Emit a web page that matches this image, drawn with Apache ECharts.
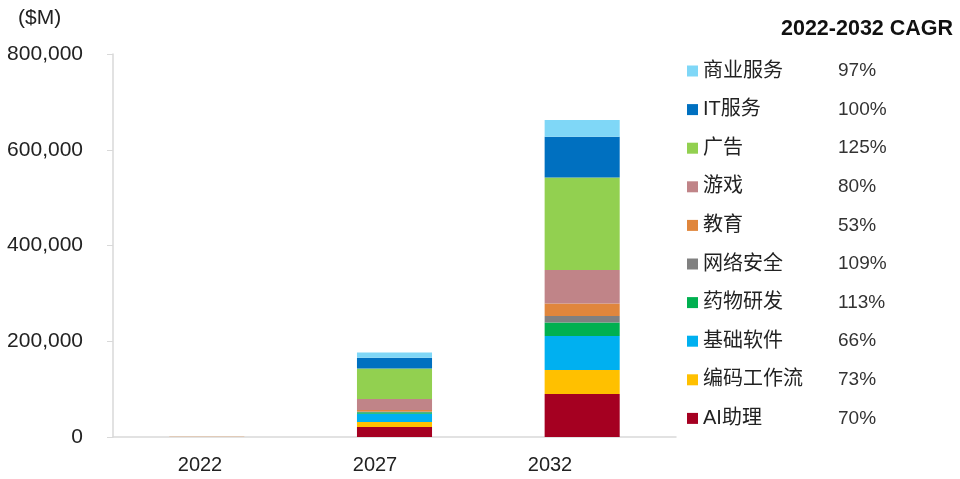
<!DOCTYPE html>
<html>
<head>
<meta charset="utf-8">
<script src="https://cdn.jsdelivr.net/npm/echarts@6/dist/echarts.min.js"></script>
<style>html,body{margin:0;padding:0;background:#fff}#c{width:960px;height:479px}</style>
</head>
<body>
<div id="c"></div>
<script>
const categories = ['2022', '2027', '2032'];
const seriesNames = ['AI助理', '编码工作流', '基础软件', '药物研发', '网络安全', '教育', '游戏', '广告', 'IT服务', '商业服务'];
const aiAssistant = [100, 20900, 90000];
const codingWorkflow = [60, 10400, 50000];
const basicSoftware = [90, 17500, 71000];
const drugDiscovery = [5, 3000, 28000];
const cyberSecurity = [3, 1500, 14000];
const education = [90, 3000, 26000];
const gaming = [40, 23000, 70000];
const advertising = [20, 64000, 193000];
const itServices = [20, 22000, 85000];
const businessServices = [10, 11000, 35000];
const cagr = ['70%', '73%', '66%', '113%', '109%', '53%', '80%', '125%', '100%', '97%'];
const yTicks = [0, 200000, 400000, 600000, 800000];
const colors = ['#a50021', '#ffc000', '#00b0f0', '#00b050', '#808080', '#e0863c', '#c08488', '#92d050', '#0070c0', '#7fd7f7'];

const values = [aiAssistant, codingWorkflow, basicSoftware, drugDiscovery, cyberSecurity, education, gaming, advertising, itServices, businessServices];
const latin = 'Liberation Sans, Arial, sans-serif';
const cjk = 'Liberation Sans, Noto Sans CJK SC, sans-serif';

const chart = echarts.init(document.getElementById('c'));
chart.setOption({
  animation: false,
  title: [
    { text: '($M)', left: 13, top: 3, textStyle: { fontFamily: latin, fontSize: 21, fontWeight: 'normal', color: '#222' } },
    { text: '2022-2032 CAGR', left: 776, top: 13, textStyle: { fontFamily: latin, fontSize: 21.5, fontWeight: 'bold', color: '#111' } }
  ],
  grid: [
    { left: 113, right: 284, top: 54, bottom: 42 },
    { left: 112.5, right: 322.5, top: 54, bottom: 42 }
  ],
  legend: {
    orient: 'vertical',
    left: 682,
    top: 56,
    itemWidth: 11,
    itemHeight: 11,
    itemGap: 18.6,
    icon: 'rect',
    data: seriesNames.slice().reverse(),
    formatter: function (name) {
      const i = seriesNames.indexOf(name);
      return '{n|' + name + '}{v|' + cagr[i] + '}';
    },
    textStyle: {
      rich: {
        n: { width: 135, fontSize: 20, lineHeight: 22, fontFamily: cjk, color: '#222' },
        v: { fontSize: 19, lineHeight: 22, fontFamily: latin, color: '#333' }
      }
    }
  },
  xAxis: [
    {
      type: 'category', gridIndex: 0, data: categories,
      axisLine: { show: true, lineStyle: { color: '#d9d9d9', width: 1.5 } },
      axisTick: { show: false },
      axisLabel: { show: false }
    },
    {
      type: 'category', gridIndex: 1, data: categories,
      axisLine: { show: false }, axisTick: { show: false },
      axisLabel: { show: true, margin: 18, fontSize: 20, fontFamily: latin, color: '#222' }
    }
  ],
  yAxis: [
    {
      type: 'value', gridIndex: 0, min: 0, max: 800000, interval: 200000,
      axisLine: { show: true, lineStyle: { color: '#d9d9d9', width: 1.5 } },
      axisTick: { show: true, length: 6, lineStyle: { color: '#d9d9d9' } },
      splitLine: { show: false },
      axisLabel: {
        margin: 30, fontSize: 21, fontFamily: latin, color: '#222',
        formatter: function (v) { return yTicks.indexOf(v) >= 0 ? v.toLocaleString('en-US') : ''; }
      }
    },
    { type: 'value', gridIndex: 1, min: 0, max: 800000, show: false }
  ],
  series: seriesNames.map(function (name, i) {
    return {
      name: name, type: 'bar', stack: 'total', xAxisIndex: 0, yAxisIndex: 0,
      barWidth: '40%', data: values[i], itemStyle: { color: colors[i] }
    };
  })
});
</script>
</body>
</html>
